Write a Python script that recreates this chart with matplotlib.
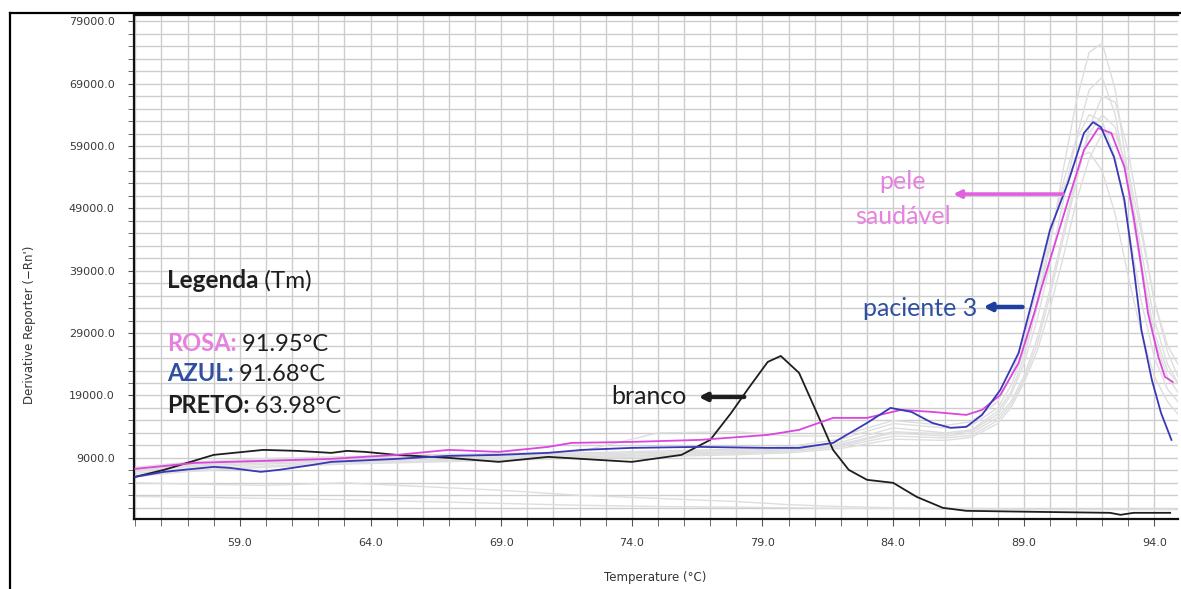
import matplotlib
matplotlib.use("Agg")
import matplotlib.pyplot as plt
from matplotlib.lines import Line2D
from matplotlib.ticker import FixedLocator, FormatStrFormatter

# --- data ---
T_BRANCO = [55.0, 56.1, 58.0, 59.9, 61.2, 62.5, 63.1, 63.8, 65.0, 67.0, 68.9, 70.8,
            72.7, 74.0, 75.9, 77.0, 77.8, 78.5, 79.2, 79.7, 80.4, 81.2, 81.7, 82.3,
            83.0, 84.0, 84.9, 85.9, 86.8, 89.4, 92.3, 92.7, 93.2, 94.6]
V_BRANCO = [5960, 7080, 9480, 10280, 10120, 9800, 10120, 9960, 9480, 9000, 8360, 9160,
            8680, 8360, 9480, 11880, 16200, 20370, 24380, 25340, 22620, 15090, 10280, 7080,
            5480, 5000, 2750, 990, 510, 350, 190, -130, 190, 190]

T_AZUL = [55.0, 56.1, 58.0, 58.6, 59.8, 60.5, 61.8, 62.5, 65.0, 67.0, 68.9, 70.8, 72.1,
          74.0, 76.6, 79.2, 80.4, 81.7, 83.0, 83.9, 84.7, 85.5, 86.2, 86.8, 87.4, 88.1,
          88.8, 89.4, 90.0, 90.7, 91.3, 91.65, 91.95, 92.45, 92.85, 93.2, 93.5, 93.9,
          94.25, 94.65]
V_AZUL = [5960, 6760, 7560, 7400, 6760, 7080, 7880, 8360, 8840, 9320, 9480, 9800, 10280,
          10600, 10760, 10600, 10600, 11400, 14600, 17010, 16370, 14600, 13810, 13970, 15890, 19890,
          25820, 35430, 45530, 53220, 61070, 62830, 62030, 57220, 50330, 39600, 29510, 21500,
          16210, 11880]

T_ROSA = [55.0, 57.3, 59.9, 62.5, 65.0, 67.0, 68.9, 70.8, 71.7, 74.0, 76.6, 79.2, 80.4,
          81.7, 83.0, 84.3, 85.5, 86.8, 87.4, 88.1, 88.8, 89.4, 89.65, 90.7, 91.3, 91.85,
          92.35, 92.85, 93.2, 93.5, 93.75, 94.15, 94.4, 94.7]
V_ROSA = [7240, 8200, 8520, 8840, 9480, 10280, 9960, 10760, 11400, 11560, 11880, 12680, 13490,
          15410, 15410, 16690, 16370, 15890, 16690, 19090, 24220, 32230, 35910, 50330, 58340, 61870,
          61070, 55620, 47610, 39600, 32230, 25180, 21980, 21170]

# other samples (light grey family)
T_GREY = [55.0, 57, 60, 63, 66, 69, 72, 75, 78, 80, 82, 84, 86, 87, 88, 88.5, 89, 89.5,
          90, 90.5, 91, 91.5, 92, 92.5, 93, 93.5, 94, 94.5, 94.9]
GREY_1 = [7000, 7800, 8400, 8800, 9100, 9300, 9600, 9900, 10200, 10500, 11500, 13800, 13000, 13500,
          16500, 19500, 25000, 33000, 43000, 55000, 66000, 74000, 75500, 68000, 54000, 40000, 29000, 23000, 21000]
GREY_2 = [6500, 7300, 8000, 8400, 8700, 8900, 9200, 9500, 9800, 10100, 11000, 13000, 12500, 13000,
          15500, 18000, 22000, 28000, 36000, 45000, 54000, 61000, 64000, 62000, 54000, 42000, 31000, 24000, 21000]
GREY_3 = [7200, 8000, 8700, 9000, 9300, 9500, 9800, 10100, 10400, 10800, 12000, 14500, 13800, 14200,
          17000, 20500, 26000, 34000, 44000, 53000, 60000, 64000, 63000, 57000, 46000, 34000, 25000, 20000, 18000]
GREY_4 = [6000, 6800, 7500, 8000, 8300, 8600, 8900, 9200, 9500, 9800, 10500, 12000, 11800, 12300,
          14500, 17000, 21000, 26000, 33000, 41000, 50000, 57000, 61000, 61000, 55000, 45000, 34000, 26000, 22000]
GREY_5 = [6800, 7600, 8200, 8600, 8900, 9100, 9400, 9700, 10000, 10300, 11200, 13200, 12800, 13300,
          16000, 19000, 24000, 31000, 40000, 50000, 60000, 68000, 70000, 64000, 52000, 39000, 28000, 22000, 19500]
GREY_6 = [7500, 8300, 8900, 9200, 9500, 9700, 10000, 13000, 13200, 12500, 12500, 15000, 14200, 14800,
          18000, 22000, 28000, 36000, 45000, 52000, 57000, 58000, 55000, 48000, 38000, 29000, 22000, 18000, 16000]
GREY_7 = [6200, 7000, 7700, 8200, 8500, 8800, 9100, 9400, 9700, 10000, 10800, 12500, 12200, 12600,
          15000, 17500, 21500, 27000, 35000, 44000, 53000, 62000, 67000, 66000, 58000, 46000, 34000, 27000, 24000]
GREY_8 = [2800, 2700, 2500, 2300, 2000, 1700, 1400, 1200, 1100, 1000, 900, 900, 800, 800,
          750, 750, 700, 700, 700, 700, 700, 700, 700, 700, 700, 700, 700, 700, 700]
GREY_9 = [5000, 4800, 4600, 5000, 4400, 3800, 3000, 2500, 2000, 1500, 1200, 1000, 900, 900,
          850, 850, 800, 800, 800, 800, 800, 800, 800, 800, 800, 800, 800, 800, 800]
GREYS = [GREY_1, GREY_2, GREY_3, GREY_4, GREY_5, GREY_6, GREY_7, GREY_8, GREY_9]

Y_MAJOR = list(range(9000, 80000, 10000))
Y_MINOR = list(range(1000, 80000, 2000))
X_MAJOR = [59, 64, 69, 74, 79, 84, 89, 94]
X_MINOR = list(range(55, 95))

PINK_LINE = "#dc46dc"
PINK_TEXT = "#e681e0"
BLUE_LINE = "#3838b8"
BLUE_TEXT = "#2f4f9f"
BLACK = "#1e1e1e"
GRID = "#cdcdcd"
GREY = "#dedede"

W, H = 1181, 589
fig = plt.figure(figsize=(W / 100, H / 100), dpi=100)
fig.patch.set_facecolor("white")
ax = fig.add_axes([134 / W, 1 - 519 / H, (1178 - 134) / W, (519 - 15) / H])

for g in GREYS:
    ax.plot(T_GREY, g, color=GREY, lw=1.0, zorder=2)
ax.plot(T_BRANCO, V_BRANCO, color=BLACK, lw=1.3, zorder=4)
ax.plot(T_ROSA, V_ROSA, color=PINK_LINE, lw=1.3, zorder=5)
ax.plot(T_AZUL, V_AZUL, color=BLUE_LINE, lw=1.3, zorder=6)

ax.set_xlim(54.95, 94.9)
ax.set_ylim(-800, 80000)
ax.xaxis.set_major_locator(FixedLocator(X_MAJOR))
ax.xaxis.set_minor_locator(FixedLocator(X_MINOR))
ax.yaxis.set_major_locator(FixedLocator(Y_MAJOR))
ax.yaxis.set_minor_locator(FixedLocator(Y_MINOR))
ax.xaxis.set_major_formatter(FormatStrFormatter("%.1f"))
ax.yaxis.set_major_formatter(FormatStrFormatter("%.1f"))
ax.grid(True, which="both", color=GRID, lw=1.0, zorder=1)
ax.set_axisbelow(True)
ax.tick_params(axis="both", which="both", direction="out", color="#555555",
               labelcolor="#3a3a3a", labelsize=8)
ax.tick_params(axis="x", which="both", length=5, pad=9)
ax.tick_params(axis="y", which="both", length=4, pad=10)
for s in ("left", "bottom", "top"):
    ax.spines[s].set_color("#111111")
    ax.spines[s].set_linewidth(1.6)
ax.spines["right"].set_visible(False)

# outer frame of the screenshot (left + top edges only are in view)
fig.add_artist(Line2D([10 / W, 10 / W], [0, 1 - 13 / H], color="black", lw=1.6,
                      transform=fig.transFigure))
fig.add_artist(Line2D([10 / W, 1], [1 - 13 / H, 1 - 13 / H], color="black", lw=1.6,
                      transform=fig.transFigure))

fig.text(30 / W, 1 - 325 / H, "Derivative Reporter (\u2212Rn')", rotation=90,
         ha="center", va="center", fontsize=8.5, color="#333333")
fig.text(655 / W, 1 - 577 / H, "Temperature (\u00b0C)", ha="center", va="center",
         fontsize=8.5, color="#333333")

FONT = "Lato"
FS = 17


# legend block: bold coloured label followed by a plain value
def two_part(x, y, first, second, color, size=FS):
    t1 = ax.text(x, y, first, color=color, fontsize=size, fontweight="bold",
                 family=FONT, ha="left", va="center", zorder=7)
    ax.annotate(second, xy=(1, 0), xycoords=t1, ha="left", va="bottom",
                color=BLACK, fontsize=size, family=FONT, zorder=7)


two_part(56.2, 37500, "Legenda", " (Tm)", BLACK, 17.5)
two_part(56.2, 27400, "ROSA:", " 91.95\u00b0C", PINK_TEXT)
two_part(56.2, 22500, "AZUL:", " 91.68\u00b0C", BLUE_TEXT)
two_part(56.2, 17400, "PRETO:", " 63.98\u00b0C", BLACK)

# labelled arrows
ax.annotate("", xy=(76.55, 18770), xytext=(78.3, 18770),
            arrowprops=dict(arrowstyle="-|>", lw=3.2, color=BLACK, mutation_scale=11,
                            shrinkA=0, shrinkB=0), zorder=7)
ax.text(76.1, 18900, "branco", ha="right", va="center", fontsize=18, family=FONT,
        color=BLACK, zorder=7)

ax.annotate("", xy=(87.45, 33190), xytext=(88.95, 33190),
            arrowprops=dict(arrowstyle="-|>", lw=3.2, color="#1f3f9f", mutation_scale=11,
                            shrinkA=0, shrinkB=0), zorder=7)
ax.text(87.2, 32900, "paciente 3", ha="right", va="center", fontsize=18, family=FONT,
        color=BLUE_TEXT, zorder=7)

ax.annotate("", xy=(86.3, 51290), xytext=(90.5, 51290),
            arrowprops=dict(arrowstyle="-|>", lw=2.6, color="#e060e0", mutation_scale=11,
                            shrinkA=0, shrinkB=0), zorder=7)
ax.text(84.36, 53300, "pele", ha="center", va="center", fontsize=18, family=FONT,
        color=PINK_TEXT, zorder=7)
ax.text(84.36, 47700, "saud\u00e1vel", ha="center", va="center", fontsize=18, family=FONT,
        color=PINK_TEXT, zorder=7)

fig.savefig("out.png", dpi=100, facecolor="white")
